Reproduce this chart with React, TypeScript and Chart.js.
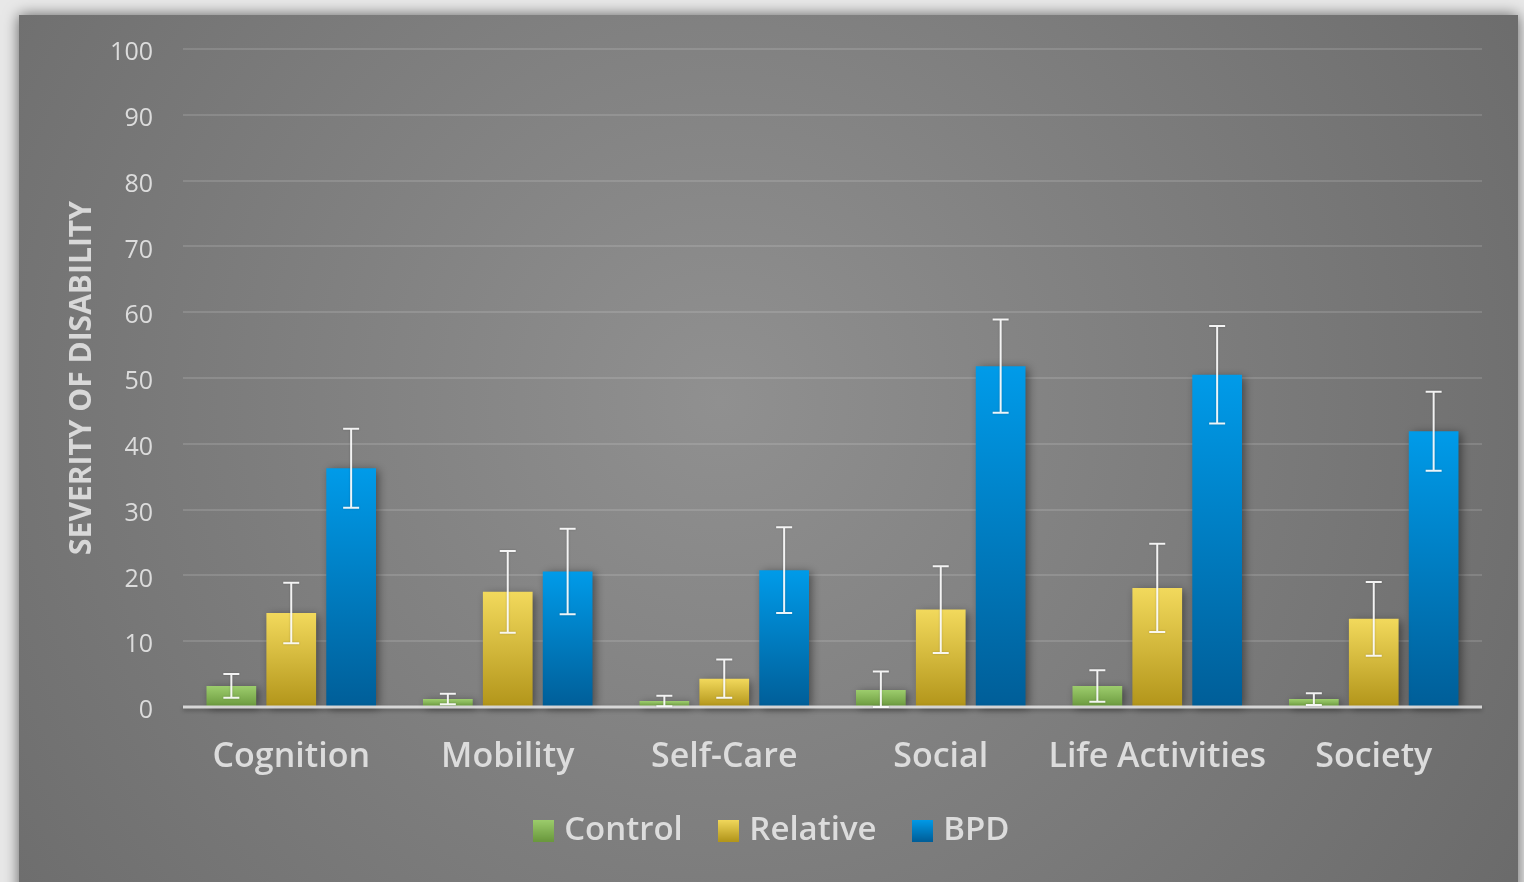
import React, { useEffect, useRef } from "react";
import { Chart, registerables } from "chart.js";

Chart.register(...registerables);

const categories = ["Cognition", "Mobility", "Self-Care", "Social", "Life Activities", "Society"];
const seriesNames = ["Control", "Relative", "BPD"];

const controlMeans = [3.2, 1.2, 0.9, 2.6, 3.2, 1.2];
const controlSD = [1.8, 0.8, 0.8, 2.8, 2.4, 0.9];
const relativeMeans = [14.3, 17.5, 4.3, 14.8, 18.1, 13.4];
const relativeSD = [4.6, 6.2, 2.9, 6.6, 6.7, 5.6];
const bpdMeans = [36.3, 20.6, 20.8, 51.8, 50.5, 41.9];
const bpdSD = [6.0, 6.5, 6.5, 7.1, 7.4, 6.0];

const yTickValues = [0, 10, 20, 30, 40, 50, 60, 70, 80, 90, 100];
const yTitle = "SEVERITY OF DISABILITY";

const seriesMeans = [controlMeans, relativeMeans, bpdMeans];
const seriesSD = [controlSD, relativeSD, bpdSD];
const seriesGradients: [string, string][] = [
  ["#9dcd6d", "#6a983d"],
  ["#f2d95c", "#b2951a"],
  ["#009be9", "#005e98"],
];

const FONT = "'Open Sans', 'DejaVu Sans', sans-serif";

function makeSwatch(colors: [string, string]) {
  const c = document.createElement("canvas");
  c.width = 21;
  c.height = 22;
  const g = c.getContext("2d")!;
  const grad = g.createLinearGradient(0, 0, 0, 22);
  grad.addColorStop(0, colors[0]);
  grad.addColorStop(1, colors[1]);
  g.fillStyle = grad;
  g.fillRect(0, 0, 21, 22);
  return c;
}

const framePlugin = {
  id: "frame",
  beforeDraw(chart: any) {
    const { ctx, width, height } = chart;
    ctx.save();
    ctx.fillStyle = "#e8e8e8";
    ctx.fillRect(0, 0, width, height);
    ctx.shadowColor = "rgba(0,0,0,0.6)";
    ctx.shadowBlur = 14;
    const g = ctx.createRadialGradient(720, 400, 0, 720, 400, 950);
    g.addColorStop(0, "#909090");
    g.addColorStop(1, "#6a6a6a");
    ctx.fillStyle = g;
    ctx.fillRect(19, 15, 1499, height + 40);
    ctx.restore();
  },
  beforeDatasetsDraw(chart: any) {
    const { ctx } = chart;
    ctx.save();
    ctx.shadowColor = "rgba(0,0,0,0.45)";
    ctx.shadowBlur = 9;
    ctx.shadowOffsetX = 3;
    ctx.shadowOffsetY = 2;
  },
  afterDatasetsDraw(chart: any) {
    const { ctx, chartArea } = chart;
    ctx.restore();
    const y = chart.scales.y;
    const y0 = y.getPixelForValue(0);
    ctx.save();
    ctx.shadowColor = "rgba(0,0,0,0.35)";
    ctx.shadowBlur = 4;
    ctx.shadowOffsetY = 2;
    ctx.strokeStyle = "rgba(225,225,225,0.9)";
    ctx.lineWidth = 3;
    ctx.beginPath();
    ctx.moveTo(chartArea.left, y0);
    ctx.lineTo(chartArea.right, y0);
    ctx.stroke();
    ctx.restore();

    ctx.save();
    ctx.strokeStyle = "rgba(255,255,255,0.92)";
    ctx.lineWidth = 2;
    ctx.shadowColor = "rgba(0,0,0,0.25)";
    ctx.shadowBlur = 2;
    seriesMeans.forEach((means, i) => {
      const meta = chart.getDatasetMeta(i);
      meta.data.forEach((bar: any, j: number) => {
        const m = means[j];
        const sd = seriesSD[i][j];
        const yt = y.getPixelForValue(m + sd);
        const yb = y.getPixelForValue(Math.max(0, m - sd));
        const x = bar.x;
        const cap = 8;
        ctx.beginPath();
        ctx.moveTo(x, yt);
        ctx.lineTo(x, yb);
        ctx.moveTo(x - cap, yt);
        ctx.lineTo(x + cap, yt);
        ctx.moveTo(x - cap, yb);
        ctx.lineTo(x + cap, yb);
        ctx.stroke();
      });
    });
    ctx.restore();
  },
};

export default function App() {
  const ref = useRef<HTMLCanvasElement | null>(null);

  useEffect(() => {
    if (!ref.current) return;
    const swatches = seriesGradients.map(makeSwatch);

    const datasets = seriesNames.map((name, i) => ({
      label: name,
      data: seriesMeans[i],
      clip: false as any,
      backgroundColor: (c: any) => {
        const chart = c.chart;
        if (!chart.chartArea || c.type !== "data") return seriesGradients[i][0];
        const ys = chart.scales.y;
        const top = ys.getPixelForValue(c.parsed.y);
        const bot = ys.getPixelForValue(0);
        if (!isFinite(top) || bot - top < 1) return seriesGradients[i][0];
        const g = chart.ctx.createLinearGradient(0, top, 0, bot);
        g.addColorStop(0, seriesGradients[i][0]);
        g.addColorStop(1, seriesGradients[i][1]);
        return g;
      },
      borderWidth: 0,
      categoryPercentage: 0.83,
      barPercentage: 0.83,
    }));

    const chart = new Chart(ref.current, {
      type: "bar",
      data: { labels: categories, datasets },
      options: {
        animation: false,
        responsive: false,
        maintainAspectRatio: false,
        layout: { padding: { left: 67, right: 42, top: 49, bottom: 25 } },
        plugins: {
          tooltip: { enabled: false },
          legend: {
            position: "bottom",
            labels: {
              usePointStyle: true,
              boxWidth: 8,
              padding: 42,
              color: "#dcdcdc",
              font: { family: FONT, size: 33, weight: 600 },
              generateLabels: () =>
                seriesNames.map((n, i) => ({
                  text: n,
                  pointStyle: swatches[i] as any,
                  fillStyle: seriesGradients[i][0],
                  strokeStyle: "transparent",
                  lineWidth: 0,
                  hidden: false,
                  datasetIndex: i,
                  fontColor: "#dcdcdc",
                })),
            },
          },
        },
        scales: {
          x: {
            grid: { display: false, drawTicks: false },
            border: { display: false },
            ticks: {
              color: "#dcdcdc",
              padding: 30,
              font: { family: FONT, size: 34, weight: 600 },
              maxRotation: 0,
              autoSkip: false,
            },
            afterFit: (axis: any) => {
              axis.height = 65;
              axis._computeLabelArea = () => undefined;
            },
          },
          y: {
            min: 0,
            max: 100,
            afterBuildTicks: (axis: any) => {
              axis.ticks = yTickValues.map((v) => ({ value: v }));
            },
            afterFit: (axis: any) => {
              axis.width = 183 - 67;
            },
            grid: {
              color: "rgba(255,255,255,0.13)",
              lineWidth: 2,
              drawTicks: false,
            },
            border: { display: false },
            ticks: {
              color: "#dcdcdc",
              padding: 30,
              labelOffset: 4,
              font: { family: FONT, size: 25 },
            },
            title: {
              display: true,
              text: yTitle,
              color: "#d8d8d8",
              padding: { top: 0, bottom: 0 },
              font: { family: FONT, size: 30, weight: "bold", lineHeight: 1 },
            },
          },
        },
      },
      plugins: [framePlugin],
    });
    return () => chart.destroy();
  }, []);

  return (
    <div style={{ position: "fixed", left: 0, top: 0, width: 1524, height: 882 }}>
      <canvas ref={ref} width={1524} height={882} style={{ display: "block" }} />
    </div>
  );
}
